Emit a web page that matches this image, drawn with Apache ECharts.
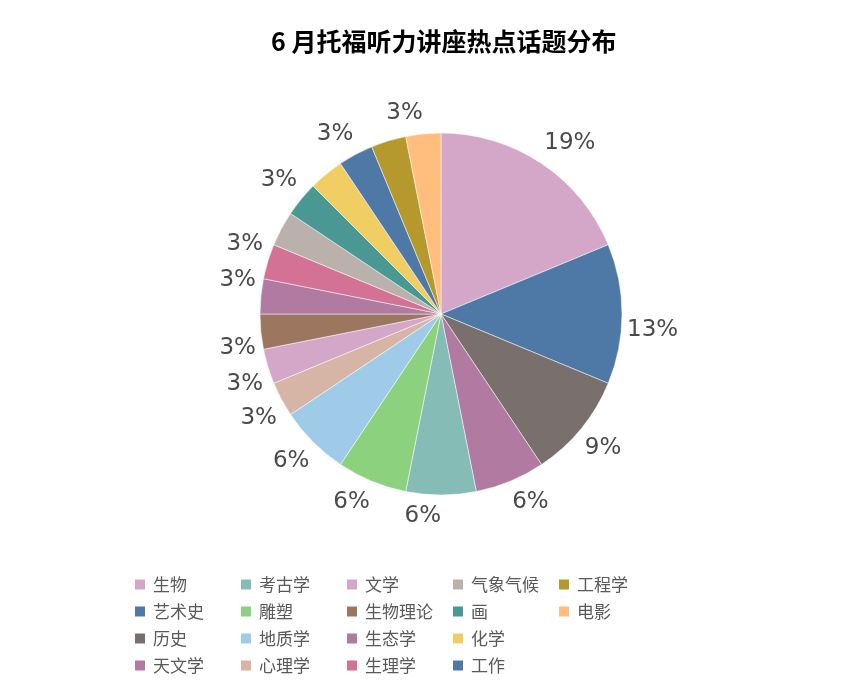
<!DOCTYPE html>
<html>
<head>
<meta charset="utf-8">
<script src="https://cdn.jsdelivr.net/npm/echarts@6/dist/echarts.min.js"></script>
<style>
  html, body { margin: 0; padding: 0; background: #fff; }
  #chart { width: 861px; height: 697px; }
</style>
</head>
<body>
<div id="chart"></div>
<script>
// 话题名称（顺时针，从12点方向开始）
const topics = ['生物', '艺术史', '历史', '天文学', '考古学', '雕塑', '地质学', '心理学', '文学',
  '生物理论', '生态学', '生理学', '气象气候', '画', '化学', '工作', '工程学', '电影'];
// 讲座数量
const counts = [6, 4, 3, 2, 2, 2, 2, 1, 1, 1, 1, 1, 1, 1, 1, 1, 1, 1];
// 颜色
const colors = ['#D4A6C8', '#4E79A7', '#79706E', '#B07AA1', '#86BCB6', '#8CD17D', '#A0CBE8', '#D7B5A6', '#D4A6C8',
  '#9D7660', '#B07AA1', '#D37295', '#BAB0AC', '#499894', '#F1CE63', '#4E79A7', '#B6992D', '#FFBE7D'];
// 原图中未显示标签的话题
const hiddenLabels = ['气象气候', '化学', '工程学'];

const center = [441, 314];
const radius = 181;
const total = counts.reduce((a, b) => a + b, 0);

// 计算每个扇区中线角度（从12点方向顺时针）
function midAngle(index) {
  let before = 0;
  for (let i = 0; i < index; i++) before += counts[i];
  return (before + counts[index] / 2) / total * Math.PI * 2;
}

const chart = echarts.init(document.getElementById('chart'));

chart.setOption({
  backgroundColor: '#fff',
  animation: false,
  title: {
    text: '6 月托福听力讲座热点话题分布',
    left: 271,
    top: 29,
    padding: 0,
    textStyle: {
      fontFamily: 'Noto Sans CJK SC',
      fontSize: 25,
      fontWeight: 'bold',
      color: '#000'
    }
  },
  legend: {
    orient: 'vertical',
    left: 128,
    top: 571,
    height: 106,
    itemWidth: 12,
    itemHeight: 12,
    itemGap: 10,
    icon: 'rect',
    textStyle: {
      fontFamily: 'Noto Sans CJK SC',
      fontSize: 17,
      lineHeight: 16,
      width: 76,
      padding: [0, 0, 0, 2],
      color: '#595959'
    },
    data: topics
  },
  series: [{
    type: 'pie',
    center: center,
    radius: radius,
    startAngle: 90,
    clockwise: true,
    avoidLabelOverlap: false,
    itemStyle: {
      borderColor: '#fff',
      borderWidth: 0.5
    },
    label: {
      show: true,
      position: 'outside',
      formatter: p => Math.round(p.value / total * 100) + '%',
      fontFamily: 'DejaVu Sans',
      fontSize: 23,
      color: '#4a4a4a'
    },
    labelLine: { show: false },
    labelLayout: params => {
      const a = midAngle(params.dataIndex);
      const ux = Math.sin(a), uy = -Math.cos(a);
      const px = center[0] + (radius + 5) * ux;
      const py = center[1] + (radius + 5) * uy;
      const sx = ux > 1e-9 ? 1 : -1;
      const sy = uy > -1e-9 ? 1 : -1;
      return {
        x: px,
        y: py + sy * 16,
        align: sx > 0 ? 'left' : 'right',
        verticalAlign: 'middle'
      };
    },
    data: topics.map((name, i) => ({
      name: name,
      value: counts[i],
      itemStyle: { color: colors[i] },
      label: { show: hiddenLabels.indexOf(name) < 0 }
    }))
  }]
});
</script>
</body>
</html>
